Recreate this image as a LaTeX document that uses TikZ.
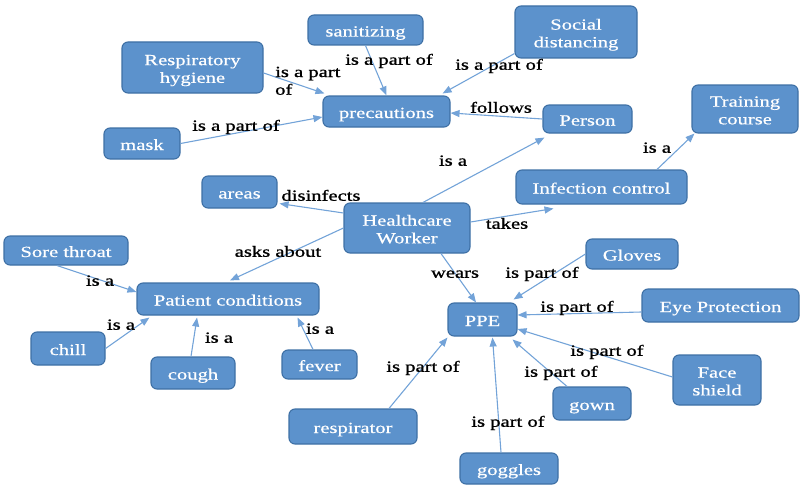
\documentclass[tikz,border=0pt]{standalone}
\usepackage{fontspec}
\setmainfont[FakeStretch=1.33]{Liberation Serif}
\newfontfamily\conceptfont[FakeStretch=1.33,FakeBold=0.5]{Liberation Serif}
\newfontfamily\relfont[FakeStretch=1.33,FakeBold=1.2]{Liberation Serif}
\usetikzlibrary{arrows.meta}
\definecolor{boxfill}{RGB}{92,146,204}
\definecolor{boxline}{RGB}{62,112,165}
\definecolor{linkline}{RGB}{115,163,216}
% struts that fix the height of the first text line and the depth of the last one
\newcommand\boxstrut{\rule[-3.5pt]{0pt}{20pt}}
\newcommand\topstrut{\rule{0pt}{16.5pt}}
\newcommand\botstrut{\rule[-3.5pt]{0pt}{3.5pt}}
\newcommand\relstrut{\rule[-3.5pt]{0pt}{14.5pt}}
\begin{document}
\begin{tikzpicture}[x=1pt,y=-1pt,
  conceptbase/.style={draw=boxline, line width=1.1pt, fill=boxfill, rounded corners=6pt,
    text=white, align=center, inner sep=0pt,
    font=\conceptfont\fontsize{15.5}{17.7}\selectfont},
  concept/.style={conceptbase, execute at begin node=\boxstrut, execute at end node=\boxstrut},
  concepttwo/.style={conceptbase},
  rel/.style={text=black, inner sep=0pt, font=\relfont\fontsize{15.5}{17.7}\selectfont,
    execute at begin node=\relstrut, execute at end node=\relstrut},
  link/.style={draw=linkline, line width=1.1pt, -{Triangle[length=9pt,width=7pt]}}
]
\useasboundingbox (0,0) rectangle (800,487);

% concepts
\node[concept, minimum width=115pt, minimum height=30pt] (san)   at (365.5,30)   {sanitizing};
\node[concept, minimum width=127pt, minimum height=31pt] (prec)  at (386.5,111.5) {precautions};
\node[concepttwo, minimum width=141pt, minimum height=51pt] (resp)  at (192.5,67.5) {\topstrut Respiratory\\hygiene\botstrut};
\node[concept, minimum width=76pt,  minimum height=31pt] (mask)  at (142,143.5)  {mask};
\node[concepttwo, minimum width=122pt, minimum height=52pt] (soc)   at (576,32)     {\topstrut Social\\distancing\botstrut};
\node[concept, minimum width=89pt,  minimum height=28pt] (pers)  at (587.5,119)  {Person};
\node[concepttwo, minimum width=106pt, minimum height=48pt] (trn)   at (745,109)    {\topstrut Training\\course\botstrut};
\node[concept, minimum width=171pt, minimum height=34pt] (inf)   at (601.5,187)  {Infection control};
\node[concepttwo, minimum width=126pt, minimum height=50pt] (hw)    at (407,228)    {\topstrut Healthcare\\Worker\botstrut};
\node[concept, minimum width=75pt,  minimum height=32pt] (areas) at (239.5,192)  {areas};
\node[concept, minimum width=124pt, minimum height=29pt] (sore)  at (66,250.5)   {Sore throat};
\node[concept, minimum width=182pt, minimum height=32pt] (pat)   at (228,299)    {Patient conditions};
\node[concept, minimum width=74pt,  minimum height=33pt] (chill) at (68,348.5)   {chill};
\node[concept, minimum width=84pt,  minimum height=32pt] (cough) at (193,373)    {cough};
\node[concept, minimum width=75pt,  minimum height=29pt] (fever) at (319.5,364.5) {fever};
\node[concept, minimum width=69pt,  minimum height=33pt] (ppe)   at (482.5,319.5) {PPE};
\node[concept, minimum width=92pt,  minimum height=30pt] (glov)  at (632,254)    {Gloves};
\node[concept, minimum width=157pt, minimum height=33pt] (eye)   at (720.5,305.5) {Eye Protection};
\node[concepttwo, minimum width=88pt,  minimum height=50pt] (face)  at (717,380)    {\topstrut Face\\shield\botstrut};
\node[concept, minimum width=78pt,  minimum height=33pt] (gown)  at (592,403.5)  {gown};
\node[concept, minimum width=128pt, minimum height=35pt] (respi) at (353,426.5)  {respirator};
\node[concept, minimum width=98pt,  minimum height=31pt] (gog)   at (509,468.5)  {goggles};

% relations
\draw[link] (san.south) -- (prec.north);
\draw[link] ([yshift=-5.5pt]resp.east) -- ([xshift=2pt,yshift=2pt]prec.north west);
\draw[link] (mask.east) -- ([yshift=-5.5pt]prec.west);
\draw[link] ([yshift=5pt]soc.south west) -- ([xshift=-8pt,yshift=2pt]prec.north east);
\draw[link] (pers.west) -- ([yshift=-1.5pt]prec.east);
\draw[link] ([xshift=16pt]hw.north) -- ([xshift=2pt,yshift=-4pt]pers.south west);
\draw[link] ([yshift=6pt]hw.east) -- ([xshift=-48pt,yshift=-4pt]inf.south);
\draw[link] ([xshift=55.5pt]inf.north) -- ([xshift=3pt]trn.south west);
\draw[link] ([yshift=15pt]hw.west) -- ([xshift=2pt,yshift=5pt]areas.south east);
\draw[link] (hw.west) -- ([xshift=2pt,yshift=2pt]pat.north);
\draw[link] ([xshift=34pt]hw.south) -- ([xshift=-6.5pt]ppe.north);
\draw[link] ([xshift=-9pt]sore.south) -- ([yshift=7pt]pat.west);
\draw[link] (chill.east) -- ([xshift=13pt,yshift=-2pt]pat.south west);
\draw[link] ([xshift=-2pt]cough.north) -- ([xshift=-31pt,yshift=-2pt]pat.south);
\draw[link] ([xshift=-6.5pt]fever.north) -- ([xshift=-22pt,yshift=-2pt]pat.south east);
\draw[link] (glov.west) -- ([xshift=-4pt,yshift=3pt]ppe.north east);
\draw[link] ([yshift=-6.5pt]eye.west) -- ([yshift=4.5pt]ppe.east);
\draw[link] ([yshift=3pt]face.west) -- ([yshift=-9.5pt]ppe.east);
\draw[link] ([xshift=-25pt]gown.north) -- ([xshift=-5pt,yshift=-3pt]ppe.south east);
\draw[link] ([xshift=-8pt]gog.north) -- ([xshift=10pt,yshift=-1pt]ppe.south);
\draw[link] ([xshift=36pt]respi.north) -- ([yshift=-1pt]ppe.south west);

% relation labels
\node[rel] (l1)  at (389,61)  {is a part of};
\node[rel, anchor=west, align=left] (l2) at (275,82.5) {is a part\\of};
\node[rel] (l3)  at (236,127) {is a part of};
\node[rel] (l4)  at (499,66)  {is a part of};
\node[rel] (l5)  at (501,109) {follows};
\node[rel] (l6)  at (453,162) {is a};
\node[rel] (l7)  at (507,225) {takes};
\node[rel] (l8)  at (657,149) {is a};
\node[rel] (l9)  at (321,197) {disinfects};
\node[rel] (l10) at (278,253) {asks about};
\node[rel] (l11) at (455,274) {wears};
\node[rel] (l12) at (100,282) {is a};
\node[rel] (l13) at (121,326) {is a};
\node[rel] (l14) at (219,339) {is a};
\node[rel] (l15) at (320,330) {is a};
\node[rel] (l16) at (542,274) {is part of};
\node[rel] (l17) at (577,308) {is part of};
\node[rel] (l18) at (607,352) {is part of};
\node[rel] (l19) at (561,373) {is part of};
\node[rel] (l20) at (508,423) {is part of};
\node[rel] (l21) at (423,368) {is part of};
\end{tikzpicture}
\end{document}
